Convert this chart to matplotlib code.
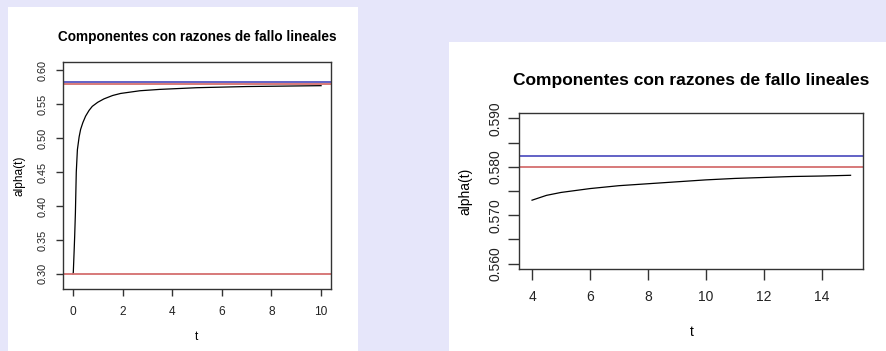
import matplotlib
matplotlib.use("Agg")
import matplotlib.pyplot as plt
from matplotlib.patches import Rectangle

W, H = 886, 351
plt.rcParams['font.family'] = ['Liberation Sans', 'DejaVu Sans']

title = "Componentes con razones de fallo lineales"
xlabel = "t"
ylabel = "alpha(t)"

# Left panel data
t_left = [0, 0.015, 0.03, 0.05, 0.07, 0.1, 0.135, 0.18, 0.25, 0.31, 0.4, 0.51,
          0.65, 0.78, 1.0, 1.25, 1.6, 1.92, 2.7, 3.5, 5, 7, 10]
a_left = [0.300, 0.302, 0.316, 0.335, 0.355, 0.39, 0.45, 0.483, 0.502, 0.513,
          0.523, 0.5325, 0.541, 0.547, 0.553, 0.558, 0.563, 0.566, 0.570,
          0.5720, 0.5745, 0.5762, 0.5775]
hlines_left = [0.5822, 0.580, 0.300]
hcolors_left = ['#5555c2', '#d46e6e', '#d46e6e']
xticks_left = [0, 2, 4, 6, 8, 10]
yticks_left = [0.30, 0.35, 0.40, 0.45, 0.50, 0.55, 0.60]

# Right panel data
t_right = [4, 4.5, 5, 6, 7, 8, 9, 10, 11, 12, 13, 14, 15]
a_right = [0.5731, 0.5741, 0.5747, 0.5755, 0.5761, 0.5765, 0.5769, 0.5773,
           0.5776, 0.5778, 0.5780, 0.5781, 0.57825]
hlines_right = [0.5822, 0.580]
hcolors_right = ['#5555c2', '#d46e6e']
xticks_right = [4, 6, 8, 10, 12, 14]
yticks_right = [0.560, 0.565, 0.570, 0.575, 0.580, 0.585, 0.590]
ytick_labels_right = ['0.560', '', '0.570', '', '0.580', '', '0.590']

fig = plt.figure(figsize=(W / 100, H / 100), dpi=100)
fig.patch.set_facecolor('#e6e6fa')


def rect(x0, y0, x1, y1):
    fig.add_artist(Rectangle((x0 / W, 1 - y1 / H), (x1 - x0) / W, (y1 - y0) / H,
                             transform=fig.transFigure, facecolor='white',
                             edgecolor='none', zorder=0))


def axes_px(l, t, r, b):
    return fig.add_axes([l / W, 1 - b / H, (r - l) / W, (b - t) / H])


rect(8, 7, 358, 351)
rect(449, 42, 886, 351)


def style(ax, xfs, yfs, ticklen, xpad, ypad):
    for s in ax.spines.values():
        s.set_color('#333333')
        s.set_linewidth(1.0)
    ax.tick_params(axis='both', direction='out', length=ticklen, width=1.0,
                   color='#333333', labelcolor='#222222')
    ax.tick_params(axis='x', labelsize=xfs, pad=xpad)
    ax.tick_params(axis='y', labelsize=yfs, pad=ypad)
    for lab in ax.get_yticklabels():
        lab.set_rotation(90)
        lab.set_va('center')


# Left axes
ax1 = axes_px(63, 62, 331, 289)
ax1.plot(t_left, a_left, color='black', lw=0.9)
for v, c in zip(hlines_left, hcolors_left):
    ax1.axhline(v, color=c, lw=1.3)
ax1.set_xlim(-0.4, 10.4)
ax1.set_ylim(0.29 - 0.0124, 0.60 + 0.0124)
ax1.set_xticks(xticks_left)
ax1.set_yticks(yticks_left)
ax1.set_yticklabels([f"{v:.2f}" for v in yticks_left])
style(ax1, 8.6, 7.8, 5, 7.5, 6)
ax1.set_title(title, fontsize=9.8, fontweight='bold', pad=15)
ax1.set_xlabel(xlabel, fontsize=8.6, labelpad=9)
ax1.set_ylabel(ylabel, fontsize=8.6, labelpad=9)

# Right axes
ax2 = axes_px(519.3, 112.7, 863.3, 269.3)
ax2.plot(t_right, a_right, color='black', lw=0.9)
for v, c in zip(hlines_right, hcolors_right):
    ax2.axhline(v, color=c, lw=1.3)
ax2.set_xlim(3.56, 15.44)
ax2.set_ylim(0.56 - 0.0012, 0.59 + 0.0012)
ax2.set_xticks(xticks_right)
ax2.set_yticks(yticks_right)
ax2.set_yticklabels(ytick_labels_right)
style(ax2, 10, 10, 8, 7, 4)
ax2.set_title(title, fontsize=12.5, fontweight='bold', pad=20)
ax2.set_xlabel(xlabel, fontsize=10, labelpad=15)
ax2.set_ylabel(ylabel, fontsize=10, labelpad=12)

fig.savefig('out.png', dpi=100, facecolor=fig.get_facecolor())
